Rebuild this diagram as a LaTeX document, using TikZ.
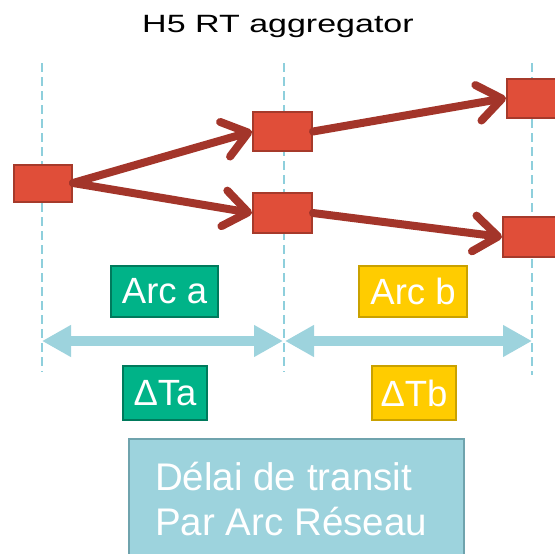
\documentclass[tikz,border=0pt]{standalone}
\usepackage{fontspec}
\setmainfont{Liberation Sans}
\usetikzlibrary{arrows.meta}
\definecolor{boxred}{HTML}{E04E39}
\definecolor{boxredline}{HTML}{A63A2B}
\definecolor{arrred}{HTML}{A3352A}
\definecolor{lblue}{HTML}{9DD3DD}
\definecolor{lblueline}{HTML}{6FA3AD}
\definecolor{dashblue}{HTML}{8ECFDC}
\definecolor{arcgreen}{HTML}{00B388}
\definecolor{arcgreenline}{HTML}{007A5C}
\definecolor{arcyellow}{HTML}{FFCC00}
\definecolor{arcyellowline}{HTML}{C9A100}
\tikzset{
  redbox/.style={draw=boxredline,fill=boxred,line width=2pt,minimum width=59pt,minimum height=39pt,inner sep=0pt},
  redarrow/.style={draw=arrred,line width=8pt,line cap=round,-{Straight Barb[length=24pt,width=36pt,line cap=round,round]}},
  timearrow/.style={draw=lblue,line width=10.5pt,{Triangle[length=29pt,width=30pt]}-{Triangle[length=29pt,width=30pt]}},
  guide/.style={draw=dashblue,line width=1.2pt,dash pattern=on 9pt off 5pt},
  greenlbl/.style={draw=arcgreenline,fill=arcgreen,line width=2pt,text=white,inner sep=0pt,font=\fontsize{36.5}{40}\selectfont},
  yellowlbl/.style={draw=arcyellowline,fill=arcyellow,line width=2pt,text=white,inner sep=0pt,font=\fontsize{36.5}{40}\selectfont},
  bigtext/.style={text=white,inner sep=0pt,anchor=base west,font=\fontsize{38.5}{44}\selectfont}
}
\begin{document}
\begin{tikzpicture}[x=1pt,y=-1pt]
\useasboundingbox (0,0) rectangle (555,554);
\clip (0,0) rectangle (555,554);
% guides
\coordinate (g1t) at (42,63);   \coordinate (g1b) at (42,372);
\coordinate (g2t) at (284,63);  \coordinate (g2b) at (284,372);
\coordinate (g3t) at (532,63);  \coordinate (g3b) at (532,375);
\draw[guide] (g1t) -- (g1b);
\draw[guide] (g2t) -- (g2b);
\draw[guide] (g3t) -- (g3b);
% title
\node[anchor=base,inner sep=0pt,font=\fontsize{25}{30}\selectfont] (title) at (278,32) {\scalebox{1.36}[1]{H5 RT aggregator}};
% red boxes
\node[redbox,minimum width=58pt,minimum height=37pt] (b1) at (43,183) {};
\node[redbox] (b2) at (282.5,131.5) {};
\node[redbox,minimum height=40pt] (b3) at (282.5,213) {};
\node[redbox] (b4) at (536.5,98) {};
\node[redbox,minimum height=40pt] (b5) at (532.5,237) {};
% arrows
\draw[redarrow] (b1.east) -- (b2.west);
\draw[redarrow] (b1.east) -- (b3.west);
\draw[redarrow] (b2.east) -- (b4.west);
\draw[redarrow] (b3.east) -- (b5.west);
% labels
\node[greenlbl,minimum width=107pt,minimum height=51pt] (arca) at (164.5,291.5) {Arc a};
\node[yellowlbl,minimum width=108pt,minimum height=51pt] (arcb) at (413,291.5) {Arc b};
% time arrows
\coordinate (t1) at (42,341);
\coordinate (t2) at (283,341);
\coordinate (t3) at (285,341);
\coordinate (t4) at (532,341);
\draw[timearrow] (t1) -- (t2);
\draw[timearrow] (t3) -- (t4);
\node[greenlbl,minimum width=84pt,minimum height=54pt] (dta) at (165,393) {ΔTa};
\node[yellowlbl,minimum width=84pt,minimum height=54pt] (dtb) at (414,393) {ΔTb};
% bottom box
\node[draw=lblueline,fill=lblue,line width=2pt,minimum width=335pt,minimum height=150pt,inner sep=0pt,anchor=north west] (bot) at (128,438) {};
\node[bigtext] (l1) at (155,490) {Délai de transit};
\node[bigtext] (l2) at (155,535) {Par Arc Réseau};
\end{tikzpicture}
\end{document}
